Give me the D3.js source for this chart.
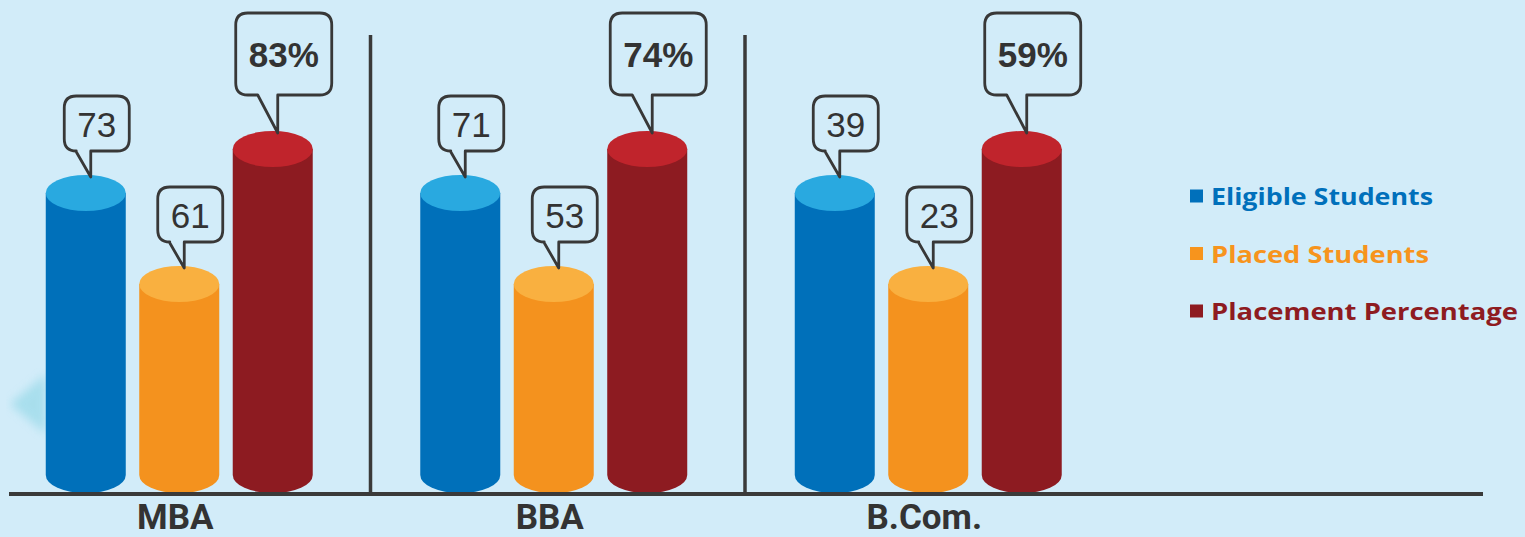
<!DOCTYPE html>
<html>
<head>
<meta charset="utf-8">
<script src="https://cdn.jsdelivr.net/npm/d3@7"></script>
<style>
  body { margin: 0; background: #d2ecf9; }
  .value { font-family: "Liberation Sans", Arial, sans-serif; fill: #333; }
  .category { font-family: Roboto, "Liberation Sans", sans-serif; font-weight: 700; fill: #333; }
  .legend text { font-family: "Open Sans", Lato, sans-serif; font-weight: 700; }
</style>
</head>
<body>
<svg id="chart" width="1525" height="537"></svg>
<script>
// data
var categories = ["MBA", "BBA", "B.Com."];
var series = ["Eligible Students", "Placed Students", "Placement Percentage"];
var eligible = [73, 71, 39];
var placed = [61, 53, 23];
var percentage = [83, 74, 59];
var valueLabels = [
  eligible.map(function(v){ return "" + v; }),
  placed.map(function(v){ return "" + v; }),
  percentage.map(function(v){ return v + "%"; })
];

var width = 1525, height = 537;
var svg = d3.select("#chart");

svg.append("rect").attr("width", width).attr("height", height).attr("fill", "#d2ecf9");

var bodyColor = d3.scaleOrdinal().domain(series).range(["#0070ba", "#f4921e", "#8d1b21"]);
var topColor = d3.scaleOrdinal().domain(series).range(["#29a9e0", "#f9b040", "#c0242c"]);
var legendColor = d3.scaleOrdinal().domain(series).range(["#0070bb", "#f7941d", "#8e1b21"]);

// outer & inner band scales
var x0 = d3.scaleBand().domain(categories).range([-8, 1115.5]).padding(0);
var x1 = d3.scaleBand().domain(series).range([-133.5, 133.5]).paddingInner(0.144).paddingOuter(0);
// decorative cylinder heights (the picture does not scale them to values)
var yTop = d3.scaleOrdinal().domain(series).range([193, 284, 149]);
var yBottom = 475, rx = 40, ry = 18, baseY = 494;

// faint arrow decoration at left
var defs = svg.append("defs");
defs.append("filter").attr("id", "blur").append("feGaussianBlur").attr("stdDeviation", 5);
svg.append("path")
  .attr("d", "M10,404 L46,374 L46,434 Z")
  .attr("fill", "#9edbea")
  .attr("opacity", 0.8)
  .attr("filter", "url(#blur)");

// group dividers
svg.selectAll(".divider")
  .data(categories.slice(1))
  .enter().append("line")
  .attr("class", "divider")
  .attr("x1", function(d){ return x0(d) + 4; })
  .attr("x2", function(d){ return x0(d) + 4; })
  .attr("y1", 35).attr("y2", baseY)
  .attr("stroke", "#3a3a3a").attr("stroke-width", 3.5);

// bars data
var bars = [];
categories.forEach(function(c, ci){
  series.forEach(function(s, si){
    bars.push({ cat: c, ser: s, label: valueLabels[si][ci], big: si === 2 });
  });
});

function cx(d){ return x0(d.cat) + x0.bandwidth() / 2 + x1(d.ser) + x1.bandwidth() / 2; }

var bar = svg.append("g").selectAll("g")
  .data(bars)
  .enter().append("g");

bar.append("path")
  .attr("fill", function(d){ return bodyColor(d.ser); })
  .attr("d", function(d){
    var c = cx(d), t = yTop(d.ser);
    return "M" + (c - rx) + "," + t + " L" + (c - rx) + "," + yBottom +
      " A" + rx + "," + ry + " 0 0 0 " + (c + rx) + "," + yBottom +
      " L" + (c + rx) + "," + t + " Z";
  });

bar.append("ellipse")
  .attr("cx", cx)
  .attr("cy", function(d){ return yTop(d.ser); })
  .attr("rx", rx).attr("ry", ry)
  .attr("fill", function(d){ return topColor(d.ser); });

// callouts
function callout(d){
  var tx = cx(d) + 5, ty = yTop(d.ser) - ry + 2;
  var w = d.big ? 96 : 65, h = d.big ? 82 : 55, tail = d.big ? 38 : 26;
  var tw = d.big ? 20 : 15, r = 12;
  var L = tx + 6 - w / 2, R = L + w, B = ty - tail, T = B - h;
  return "M" + (L + r) + "," + T + " H" + (R - r) + " Q" + R + "," + T + " " + R + "," + (T + r) +
    " V" + (B - r) + " Q" + R + "," + B + " " + (R - r) + "," + B +
    " H" + tx + " L" + tx + "," + ty + " L" + (tx - tw) + "," + B +
    " H" + (L + r) + " Q" + L + "," + B + " " + L + "," + (B - r) +
    " V" + (T + r) + " Q" + L + "," + T + " " + (L + r) + "," + T + " Z";
}

bar.append("path")
  .attr("d", callout)
  .attr("fill", "none")
  .attr("stroke", "#383838")
  .attr("stroke-width", 2.8)
  .attr("stroke-linejoin", "round");

bar.append("text")
  .attr("class", "value")
  .attr("x", function(d){ return cx(d) + 11; })
  .attr("y", function(d){
    var ty = yTop(d.ser) - ry + 2;
    return d.big ? ty - 38 - 41 + 13 : ty - 26 - 27.5 + 13;
  })
  .attr("text-anchor", "middle")
  .attr("font-size", 35)
  .attr("font-weight", function(d){ return d.big ? 700 : 400; })
  .text(function(d){ return d.label; });

// baseline
svg.append("line")
  .attr("x1", 9).attr("x2", 1483)
  .attr("y1", baseY).attr("y2", baseY)
  .attr("stroke", "#3a3a3a").attr("stroke-width", 4);

// category labels
svg.selectAll(".category")
  .data(categories)
  .enter().append("text")
  .attr("class", "category")
  .attr("x", function(d){ return x0(d) + x0.bandwidth() / 2 - 4; })
  .attr("y", 529)
  .attr("text-anchor", "middle")
  .attr("font-size", 35)
  .text(function(d){ return d; });

// legend
var legendY = d3.scalePoint().domain(series).range([196, 311]);
var legendW = d3.scaleOrdinal().domain(series).range([222, 218, 307]);
var legend = svg.append("g").attr("class", "legend")
  .selectAll("g").data(series).enter().append("g")
  .attr("transform", function(d){ return "translate(1190," + legendY(d) + ")"; });

legend.append("rect")
  .attr("x", 0).attr("y", -6.5)
  .attr("width", 13).attr("height", 13)
  .attr("fill", legendColor);

legend.append("text")
  .attr("x", 21).attr("y", 9)
  .attr("font-size", 24)
  .attr("fill", legendColor)
  .attr("textLength", legendW)
  .attr("lengthAdjust", "spacingAndGlyphs")
  .text(function(d){ return d; });
</script>
</body>
</html>
